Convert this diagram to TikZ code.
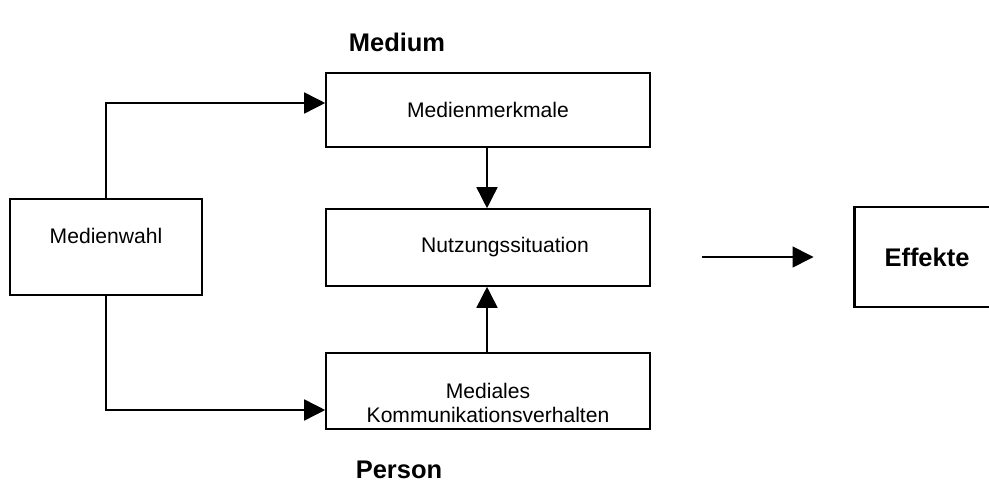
\documentclass[tikz,border=0pt]{standalone}
\usepackage{fontspec}
\setmainfont{Liberation Sans}
\usetikzlibrary{positioning,arrows.meta,calc}

\begin{document}
\begin{tikzpicture}[font=\fontsize{12}{13.7}\selectfont, every node/.style={align=center}]
\tikzset{
  box/.style={draw, line width=0.9pt, fill=white, inner sep=0pt},
  bigbox/.style={draw, line width=1.7pt, fill=white, inner sep=0pt, font=\fontsize{14.5}{17}\selectfont\bfseries},
  head/.style={font=\fontsize{14.5}{17}\selectfont\bfseries},
  arr/.style={-{Triangle[length=0.42cm, width=0.42cm]}, line width=0.9pt}
}
  \useasboundingbox (0,0) rectangle (19.78,-9.68);

  \node[head] (medium) at (7.94,-0.84) {Medium};
  \node[head] (person) at (7.98,-9.4) {Person};

  \node[box, minimum width=3.84cm, minimum height=1.92cm, text depth=0.45cm] (wahl) at (2.12,-4.94) {Medienwahl};
  \node[box, minimum width=6.48cm, minimum height=1.48cm] (merkmale) at (9.76,-2.2) {Medienmerkmale};
  \node[box, minimum width=6.48cm, minimum height=1.54cm] (nutzung) at (9.76,-4.95) {};
  \node (nutzungtext) at ([xshift=0.34cm]nutzung.center) {Nutzungssituation};
  \node[box, minimum width=6.48cm, minimum height=1.52cm] (medial) at (9.76,-7.82) {};
  \node (medialtext) at ([yshift=-0.24cm]medial.center) {Mediales\\Kommunikationsverhalten};
  \node[bigbox, minimum width=2.92cm, minimum height=2.0cm] (effekte) at (18.54,-5.14) {Effekte};
  \coordinate (effstart) at (14.04,-5.14);

  \draw[arr] (wahl.north) |- ([yshift=0.14cm]merkmale.west);
  \draw[arr] (wahl.south) |- ([yshift=-0.38cm]medial.west);
  \draw[arr] ([xshift=-0.02cm]merkmale.south) -- ([xshift=-0.02cm]nutzung.north);
  \draw[arr] ([xshift=-0.02cm]medial.north) -- ([xshift=-0.02cm]nutzung.south);
  \draw[arr] (effstart) -- ([xshift=-0.78cm]effekte.west);
\end{tikzpicture}
\end{document}
